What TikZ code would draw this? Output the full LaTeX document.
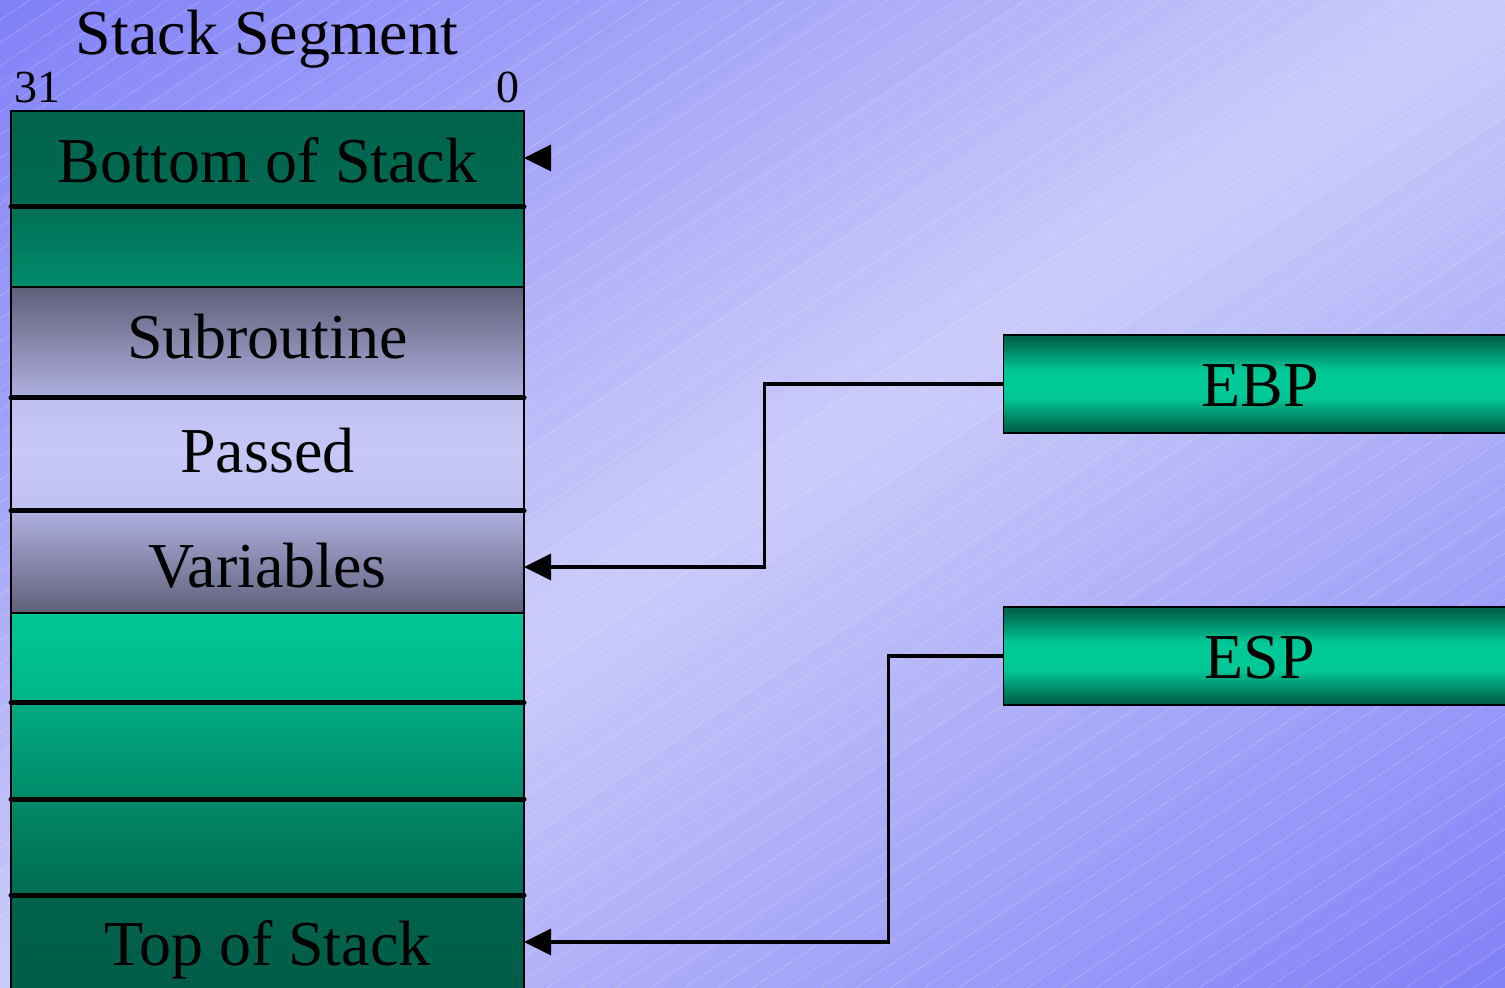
\documentclass[tikz,border=0pt]{standalone}
\usepackage{fontspec}
\setmainfont{Liberation Serif}
\usetikzlibrary{arrows.meta}
\definecolor{bgdark}{HTML}{8080F8}
\definecolor{bglight}{HTML}{CCCCFA}
\definecolor{gA}{HTML}{00634C}
\definecolor{gB}{HTML}{006A52}
\definecolor{gC}{HTML}{006E55}
\definecolor{gD}{HTML}{008C6C}
\definecolor{gE}{HTML}{00C896}
\definecolor{gF}{HTML}{00B48A}
\definecolor{gG}{HTML}{00AA82}
\definecolor{gH}{HTML}{008A68}
\definecolor{gI}{HTML}{005C48}
\definecolor{pA}{HTML}{5F5F7A}
\definecolor{pB}{HTML}{B0B0E0}
\definecolor{pC}{HTML}{C0C0F0}
\definecolor{pD}{HTML}{C8C8F8}
\pgfdeclareverticalshading{regshade}{100bp}{color(0bp)=(gA); color(27bp)=(gA); color(43bp)=(gE); color(57bp)=(gE); color(73bp)=(gA); color(100bp)=(gA)}
\tikzset{
  stripe/.style={white, opacity=0.22, line width=0.35pt},
  row/.style={rectangle, draw=black, line width=0.75pt, inner sep=0pt, outer sep=0pt, minimum width=256.5pt},
  sepline/.style={black, line width=2.5pt, line cap=round},
  lbl/.style={inner sep=0pt, font=\fontsize{32}{38}\selectfont, text=black},
  bitlbl/.style={inner sep=0pt, font=\fontsize{23}{27}\selectfont, text=black},
  reg/.style={rectangle, draw=black, line width=0.75pt, inner sep=0pt, outer sep=0pt, minimum width=257pt, minimum height=49pt, shading=regshade},
  conn/.style={black, line width=1.8pt, -{Triangle[length=13.5pt,width=13pt]}}
}
\begin{document}
\begin{tikzpicture}[x=0.5pt,y=-0.5pt]
\useasboundingbox (0,0) rectangle (1505,988);
% diagonal background gradient (dark corners top-left / bottom-right, light along the anti-diagonal)
\begin{scope}
\clip (0,0) rectangle (1505,988);
\foreach \i in {0,...,49} {
  \pgfmathsetmacro\ta{\i*0.04}
  \pgfmathsetmacro\tb{\ta+0.07}
  \pgfmathsetmacro\tm{\ta+0.02}
  \pgfmathsetmacro\f{\tm<1 ? 100*\tm : 100*(2-\tm)}
  \colorlet{stripc}{bglight!\f!bgdark}
  \fill[stripc] ({1505*(\ta+1)},-988) -- ({1505*(\ta-2)},1976) -- ({1505*(\tb-2)},1976) -- ({1505*(\tb+1)},-988) -- cycle;
}
\foreach \c in {20,43,...,2100} \draw[stripe] (0,\c) -- (1505,\c-1008);
\end{scope}
% stack rows
\node[row, minimum height=48pt, top color=gA, bottom color=gB] (r1) at (267.5,159) {};
\node[row, minimum height=40pt, top color=gC, bottom color=gD] (r2) at (267.5,247) {};
\node[row, minimum height=55.5pt, top color=pA, bottom color=pB] (r3) at (267.5,342.5) {};
\node[row, minimum height=56.5pt, top color=pC, bottom color=pC, middle color=pD] (r4) at (267.5,454.5) {};
\node[row, minimum height=51pt, top color=pB, bottom color=pA] (r5) at (267.5,562) {};
\node[row, minimum height=45pt, top color=gE, bottom color=gF] (r6) at (267.5,658) {};
\node[row, minimum height=48pt, top color=gG, bottom color=gH] (r7) at (267.5,751) {};
\node[row, minimum height=48pt, top color=gH, bottom color=gB] (r8) at (267.5,847) {};
\node[row, minimum height=52.5pt, top color=gA, bottom color=gI] (r9) at (267.5,947.5) {};
% thick separators
\draw[sepline] (r1.south west) -- (r1.south east);
\draw[sepline] (r3.south west) -- (r3.south east);
\draw[sepline] (r4.south west) -- (r4.south east);
\draw[sepline] (r6.south west) -- (r6.south east);
\draw[sepline] (r7.south west) -- (r7.south east);
\draw[sepline] (r8.south west) -- (r8.south east);
% labels
\node[lbl, anchor=base] (title) at (267,55) {Stack Segment};
\node[bitlbl, anchor=base] (b31) at (37,103) {31};
\node[bitlbl, anchor=base] (b0) at (508,103) {0};
\node[lbl, anchor=base] (l1) at (267.5,183) {Bottom of Stack};
\node[lbl, anchor=base] (l3) at (267.5,359) {Subroutine};
\node[lbl, anchor=base] (l4) at (267.5,473) {Passed};
\node[lbl, anchor=base] (l5) at (267.5,588) {Variables};
\node[lbl, anchor=base] (l9) at (267.5,965) {Top of Stack};
% registers
\node[reg] (ebp) at (1260.5,384) {};
\node[reg] (esp) at (1260.5,656) {};
\node[lbl, anchor=base] (ebpt) at (1260,407) {EBP};
\node[lbl, anchor=base] (espt) at (1260,679) {ESP};
% connectors
\coordinate (bfree) at (551,158);
\draw[conn] (bfree) -- ([yshift=0.5pt]r1.east);
\draw[conn] (ebp.west) -- ++(-239,0) |- ([yshift=-2.5pt]r5.east);
\draw[conn] (esp.west) -- ++(-115,0) |- ([yshift=2.75pt]r9.east);
\end{tikzpicture}
\end{document}
